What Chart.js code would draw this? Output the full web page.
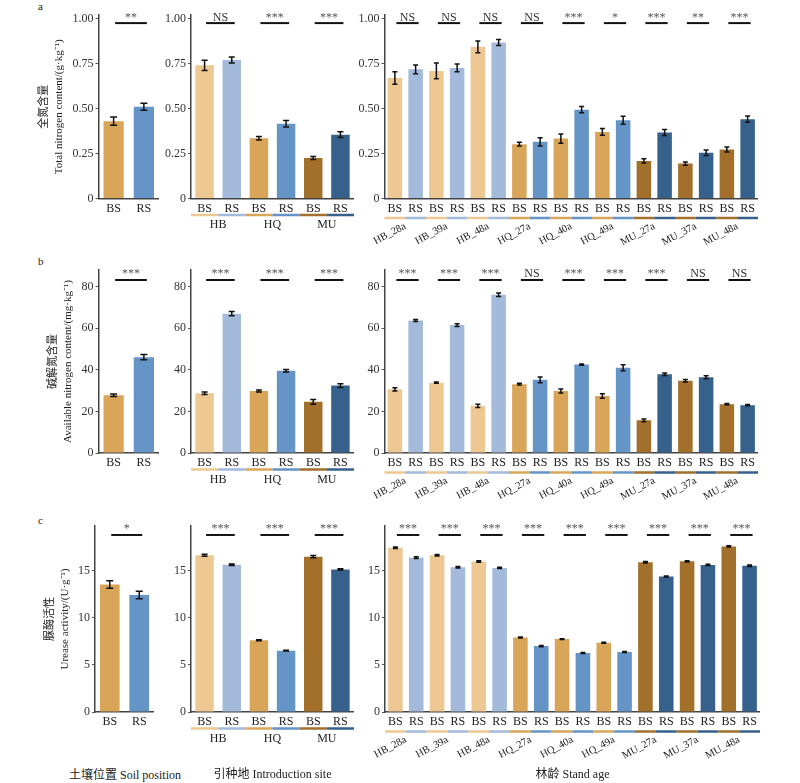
<!DOCTYPE html>
<html>
<head>
<meta charset="utf-8">
<title>全氮 / 碱解氮 / 脲酶</title>
<script src="https://cdn.jsdelivr.net/npm/chart.js@4.4.1/dist/chart.umd.min.js"></script>
<style>
  body { margin: 0; background: #fff; }
  #fig { position: relative; width: 800px; height: 783px; overflow: hidden; font-family: 'Liberation Serif', 'Noto Sans CJK SC', serif; }
  #fig canvas { position: absolute; }
  .tag { position: absolute; font-size: 11px; line-height: 12px; color: #222; }
  .xt { position: absolute; font-size: 12px; line-height: 14px; color: #222; text-align: center; white-space: nowrap; }
</style>
</head>
<body>
<div id="fig">
  <div class="tag" style="left:38px;top:0px">a</div>
  <div class="tag" style="left:38px;top:255px">b</div>
  <div class="tag" style="left:38px;top:514px">c</div>
  <div class="xt" style="left:55px;width:140px;top:768px">土壤位置 Soil position</div>
</div>
<script>
// categories
const posLabels = ['BS', 'RS'];
const sites = ['HB', 'HQ', 'MU'];
const siteBars = ['BS', 'RS', 'BS', 'RS', 'BS', 'RS'];
const stands = ['HB_28a', 'HB_39a', 'HB_48a', 'HQ_27a', 'HQ_40a', 'HQ_49a', 'MU_27a', 'MU_37a', 'MU_48a'];
const standBars = ['BS', 'RS', 'BS', 'RS', 'BS', 'RS', 'BS', 'RS', 'BS', 'RS', 'BS', 'RS', 'BS', 'RS', 'BS', 'RS', 'BS', 'RS'];

// y tick values
const tnTicks = [0, 0.25, 0.5, 0.75, 1.0];
const anTicks = [0, 20, 40, 60, 80];
const urTicks = [0, 5, 10, 15];

// a: 全氮含量 (g/kg)
const tnPos = [0.43, 0.51];
const tnPosErr = [0.023, 0.02];
const tnPosSig = ['**'];
const tnSite = [0.74, 0.77, 0.335, 0.415, 0.225, 0.355];
const tnSiteErr = [0.028, 0.017, 0.01, 0.018, 0.008, 0.016];
const tnSiteSig = ['NS', '***', '***'];
const tnStand = [0.670, 0.718, 0.709, 0.726, 0.843, 0.867, 0.302, 0.315, 0.333, 0.494, 0.370, 0.435, 0.209, 0.367, 0.194, 0.254, 0.272, 0.441];
const tnStandErr = [0.035, 0.024, 0.044, 0.022, 0.033, 0.017, 0.010, 0.023, 0.026, 0.017, 0.019, 0.022, 0.012, 0.017, 0.009, 0.015, 0.014, 0.017];
const tnStandSig = ['NS', 'NS', 'NS', 'NS', '***', '*', '***', '**', '***'];

// b: 碱解氮含量 (mg/kg)
const anPos = [27.8, 46.1];
const anPosErr = [0.6, 1.3];
const anPosSig = ['***'];
const anSite = [28.7, 67.0, 29.8, 39.5, 24.6, 32.4];
const anSiteErr = [0.6, 1.0, 0.5, 0.6, 1.1, 0.9];
const anSiteSig = ['***', '***', '***'];
const anStand = [30.6, 63.7, 33.8, 61.5, 22.7, 76.1, 33.1, 35.2, 29.8, 42.5, 27.4, 41.0, 15.7, 37.9, 34.7, 36.4, 23.5, 23.0];
const anStandErr = [0.8, 0.5, 0.3, 0.7, 0.8, 0.8, 0.4, 1.4, 1.0, 0.3, 1.1, 1.4, 0.7, 0.6, 0.6, 0.7, 0.3, 0.3];
const anStandSig = ['***', '***', '***', 'NS', '***', '***', '***', 'NS', 'NS'];

// c: 脲酶活性 (U/g)
const urPos = [13.5, 12.4];
const urPosErr = [0.4, 0.4];
const urPosSig = ['*'];
const urSite = [16.6, 15.6, 7.6, 6.5, 16.45, 15.1];
const urSiteErr = [0.1, 0.08, 0.05, 0.05, 0.12, 0.07];
const urSiteSig = ['***', '***', '***'];
const urStand = [17.4, 16.35, 16.6, 15.33, 15.93, 15.26, 7.89, 6.98, 7.72, 6.25, 7.33, 6.35, 15.86, 14.35, 15.96, 15.58, 17.54, 15.5];
const urStandErr = [0.08, 0.08, 0.08, 0.07, 0.08, 0.07, 0.06, 0.06, 0.05, 0.05, 0.05, 0.06, 0.07, 0.06, 0.07, 0.07, 0.07, 0.08];
const urStandSig = ['***', '***', '***', '***', '***', '***', '***', '***', '***'];

const FONT = "'Liberation Serif', 'Times New Roman', 'Noto Sans CJK SC', serif";
Chart.defaults.font.family = FONT;
Chart.defaults.font.size = 12;
Chart.defaults.color = '#222';

const siteColors = {
    HB: ['#EDC893', '#A3BADB'],
    HQ: ['#D9A659', '#6595C6'],
    MU: ['#A2702A', '#36618C']
};
const siteBarColors = sites.flatMap(s => siteColors[s]);
const standBarColors = stands.flatMap(s => siteColors[s.slice(0, 2)]);

// where each row / column sits on the page
const rowBox = {
    a: { top: 0, bottom: 252, areaTop: 15, areaBottom: 198.5 },
    b: { top: 255, bottom: 508, areaTop: 270, areaBottom: 453 },
    c: { top: 511, bottom: 783, areaTop: 526, areaBottom: 712 }
};
const colBox = [
    { a: [98.5, 158.5], b: [98.5, 158.5], c: [95, 154], canvasLeft: 25, barPct: 0.67, cap: 3.5 },
    { a: [191, 354], b: [191, 354], c: [191, 354], yw: 40, barPct: 0.68, cap: 3, ul: 16.5 },
    { a: [384.5, 758], b: [384.5, 758], c: [385, 760], yw: 40, barPct: 0.70, cap: 2.5, ul: 19.5 }
];

// error bars, significance marks and coloured group underline
const extras = {
    id: 'extras',
    afterDatasetsDraw(chart, args, o) {
        const ctx = chart.ctx;
        const x = chart.scales.x, y = chart.scales.y;
        const ds = chart.data.datasets[0];
        const meta = chart.getDatasetMeta(0);
        ctx.save();

        ctx.strokeStyle = '#111';
        ctx.lineWidth = 1.5;
        meta.data.forEach((bar, i) => {
            const v = ds.data[i], e = o.errors[i];
            const yt = y.getPixelForValue(v + e), yb = y.getPixelForValue(v - e);
            ctx.beginPath();
            ctx.moveTo(bar.x, yt); ctx.lineTo(bar.x, yb);
            ctx.moveTo(bar.x - o.cap, yt); ctx.lineTo(bar.x + o.cap, yt);
            ctx.moveTo(bar.x - o.cap, yb); ctx.lineTo(bar.x + o.cap, yb);
            ctx.stroke();
        });

        const ys = y.getPixelForValue(o.sigAt);
        ctx.font = '12px ' + FONT;
        ctx.textAlign = 'center';
        ctx.textBaseline = 'alphabetic';
        o.sig.forEach((s, k) => {
            const x0 = x.getPixelForValue(2 * k) + 1.5;
            const x1 = x.getPixelForValue(2 * k + 1) + 3;
            ctx.lineWidth = 2;
            ctx.strokeStyle = '#111';
            ctx.beginPath(); ctx.moveTo(x0, ys); ctx.lineTo(x1, ys); ctx.stroke();
            ctx.fillStyle = s === 'NS' ? '#333' : '#555';
            ctx.fillText(s, (x0 + x1) / 2, ys - 2.5);
        });

        if (o.ul) {
            const yu = chart.chartArea.bottom + o.ul;
            const w = x.getPixelForValue(1) - x.getPixelForValue(0);
            ds.backgroundColor.forEach((col, i) => {
                ctx.fillStyle = col;
                ctx.fillRect(x.getPixelForValue(i) - w / 2, yu - 1.25, w, 2.5);
            });
        }
        ctx.restore();
    }
};

function panel(s) {
    const r = rowBox[s.row], c = colBox[s.col];
    const [aL, aR] = c[s.row];
    const left = s.col === 0 ? c.canvasLeft : Math.round(aL - c.yw);
    const cv = document.createElement('canvas');
    cv.width = Math.round(aR - left);
    cv.height = r.bottom - r.top;
    cv.style.left = left + 'px';
    cv.style.top = r.top + 'px';
    cv.style.width = cv.width + 'px';
    cv.style.height = cv.height + 'px';
    document.getElementById('fig').appendChild(cv);

    const xH = s.groups ? (s.rot ? 20 : 18) : r.bottom - r.areaBottom;
    const x2H = r.bottom - r.areaBottom - xH;
    const xTitle = t => t ? { display: true, text: t, font: { size: 12 }, padding: { top: 0, bottom: 1 }, color: '#222' } : { display: false };

    const scales = {
        x: {
            type: 'category', weight: 0, offset: true,
            grid: { display: false, drawTicks: false },
            border: { display: true, color: '#444', width: 1.5 },
            ticks: { font: { size: 12 }, padding: 3, autoSkip: false, maxRotation: 0, color: '#222' },
            title: { display: false },
            afterFit: sc => { sc.height = xH; sc.paddingLeft = 0; sc.paddingRight = 0; }
        },
        y: {
            type: 'linear', min: 0, max: s.yMax,
            grid: { display: true, drawOnChartArea: false, drawTicks: true, tickLength: 3, color: '#555', lineWidth: 1 },
            border: { display: true, color: '#444', width: 1.5 },
            ticks: { font: { size: 12 }, padding: 2, color: '#333', callback: s.yFmt },
            afterBuildTicks: sc => { sc.ticks = s.yTicks.map(v => ({ value: v })); },
            title: s.yTitle ? { display: true, text: s.yTitle, font: { size: 11, lineHeight: 1.35 }, padding: { top: s.yTitlePad, bottom: 0 }, color: '#222' } : { display: false },
            afterFit: sc => { sc.width = aL - left; sc.paddingTop = 0; sc.paddingBottom = 0; }
        }
    };
    if (s.groups) {
        scales.x2 = {
            type: 'category', labels: s.groups, position: 'bottom', weight: 1, offset: true,
            grid: { display: false, drawTicks: false },
            border: { display: false },
            ticks: { font: { size: s.rot ? 10.5 : 12 }, padding: s.rot ? 1.5 : 1.5, autoSkip: false, minRotation: s.rot || 0, maxRotation: s.rot || 0, color: '#222' },
            title: xTitle(s.xTitle),
            afterFit: sc => { sc.height = x2H; sc.paddingLeft = 0; sc.paddingRight = 0; }
        };
    }

    return new Chart(cv, {
        type: 'bar',
        data: {
            labels: s.labels,
            datasets: [{
                data: s.values,
                backgroundColor: s.colors,
                borderWidth: 0,
                barPercentage: c.barPct,
                categoryPercentage: 1
            }]
        },
        options: {
            responsive: false,
            animation: false,
            layout: { padding: { top: r.areaTop - r.top, left: 0, right: 0, bottom: 0 } },
            scales: scales,
            plugins: {
                legend: { display: false },
                tooltip: { enabled: false },
                extras: { errors: s.errors, sig: s.sig, sigAt: s.sigAt, cap: c.cap, ul: s.groups ? c.ul : 0 }
            }
        },
        plugins: [extras]
    });
}

const fmt2 = v => v === 0 ? '0' : v.toFixed(2);
const fmt0 = v => String(v);
const posColors = siteColors.HQ;

// row a
panel({ row: 'a', col: 0, labels: posLabels, values: tnPos, errors: tnPosErr, sig: tnPosSig, colors: posColors,
        sigAt: 0.975, yMax: 1.02, yTicks: tnTicks, yFmt: fmt2,
        yTitle: ['全氮含量', 'Total nitrogen content/(g·kg⁻¹)'], yTitlePad: 11.6 });
panel({ row: 'a', col: 1, labels: siteBars, values: tnSite, errors: tnSiteErr, sig: tnSiteSig, colors: siteBarColors,
        sigAt: 0.975, yMax: 1.02, yTicks: tnTicks, yFmt: fmt2, groups: sites });
panel({ row: 'a', col: 2, labels: standBars, values: tnStand, errors: tnStandErr, sig: tnStandSig, colors: standBarColors,
        sigAt: 0.975, yMax: 1.02, yTicks: tnTicks, yFmt: fmt2, groups: stands, rot: 28 });

// row b
panel({ row: 'b', col: 0, labels: posLabels, values: anPos, errors: anPosErr, sig: anPosSig, colors: posColors,
        sigAt: 83.2, yMax: 88, yTicks: anTicks, yFmt: fmt0,
        yTitle: ['碱解氮含量', 'Available nitrogen content/(mg·kg⁻¹)'], yTitlePad: 20.6 });
panel({ row: 'b', col: 1, labels: siteBars, values: anSite, errors: anSiteErr, sig: anSiteSig, colors: siteBarColors,
        sigAt: 83.2, yMax: 88, yTicks: anTicks, yFmt: fmt0, groups: sites });
panel({ row: 'b', col: 2, labels: standBars, values: anStand, errors: anStandErr, sig: anStandSig, colors: standBarColors,
        sigAt: 83.2, yMax: 88, yTicks: anTicks, yFmt: fmt0, groups: stands, rot: 28 });

// row c
panel({ row: 'c', col: 0, labels: posLabels, values: urPos, errors: urPosErr, sig: urPosSig, colors: posColors,
        sigAt: 18.75, yMax: 19.7, yTicks: urTicks, yFmt: fmt0,
        yTitle: ['脲酶活性', 'Urease activity/(U·g⁻¹)'], yTitlePad: 17.6 });
panel({ row: 'c', col: 1, labels: siteBars, values: urSite, errors: urSiteErr, sig: urSiteSig, colors: siteBarColors,
        sigAt: 18.75, yMax: 19.7, yTicks: urTicks, yFmt: fmt0, groups: sites, xTitle: '引种地 Introduction site' });
panel({ row: 'c', col: 2, labels: standBars, values: urStand, errors: urStandErr, sig: urStandSig, colors: standBarColors,
        sigAt: 18.75, yMax: 19.7, yTicks: urTicks, yFmt: fmt0, groups: stands, rot: 28, xTitle: '林龄 Stand age' });
</script>
</body>
</html>
